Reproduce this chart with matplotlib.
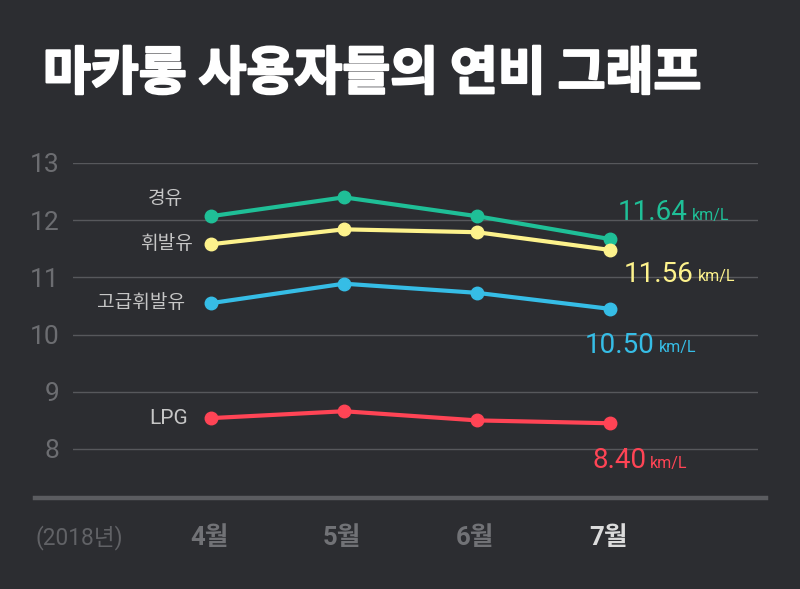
import matplotlib
matplotlib.use("Agg")
import matplotlib.pyplot as plt
import matplotlib.patheffects as pe
from matplotlib.lines import Line2D

months = ['4월', '5월', '6월', '7월']
series_names = ['경유', '휘발유', '고급휘발유', 'LPG']
diesel = [12.07, 12.40, 12.07, 11.67]
gasoline = [11.58, 11.84, 11.79, 11.48]
premium = [10.55, 10.89, 10.73, 10.45]
lpg = [8.54, 8.66, 8.50, 8.45]
last_labels = ['11.64', '11.56', '10.50', '8.40']
y_ticks = [8, 9, 10, 11, 12, 13]

BG = '#2c2d31'
colors = ['#1fbf97', '#fdf28c', '#36bde6', '#ff4455']
# label offsets in pixels (name label, value label)
name_off = [(-28, 17), (-18, 0), (-26, 0), (-23, 0)]
name_size = [13.75, 13.75, 13.75, 15]
value_off = [(8, 19), (14, -32), (-25, -44), (-18, -45)]

KR = ['Noto Sans CJK KR', 'DejaVu Sans']
NUM = ['Roboto', 'Noto Sans CJK KR']

fig = plt.figure(figsize=(8, 5.89), dpi=100, facecolor=BG)
ax = fig.add_axes([73 / 800, 1 - 498 / 589, 685 / 800, 335 / 589])
ax.set_facecolor(BG)

x = list(range(len(months)))
px = 72 / 100  # points per pixel
for vals, col, name, noff, nsz, lab, voff in zip(
        [diesel, gasoline, premium, lpg], colors, series_names,
        name_off, name_size, last_labels, value_off):
    ax.plot(x, vals, color=col, lw=3.0, marker='o', ms=9, zorder=3)
    ax.annotate(name, xy=(x[0], vals[0]), xytext=(noff[0] * px, noff[1] * px),
                textcoords='offset points', ha='right', va='center',
                color='#c6c6c6', fontsize=nsz, family=NUM)
    t = ax.annotate(lab, xy=(x[-1], vals[-1]), xytext=(voff[0] * px, voff[1] * px),
                    textcoords='offset points', ha='left', va='baseline',
                    color=col, fontsize=20, family=NUM)
    ax.annotate('km/L', xy=(1, 0), xycoords=t, xytext=(3, 2.5),
                textcoords='offset points', ha='left', va='bottom',
                color=col, fontsize=11.5, family=NUM)

ax.set_xlim(-138 / 133, 3 + 148 / 133)
ax.set_ylim(8 - 49 / 57.2, 13)
ax.set_yticks(y_ticks)
ax.set_yticklabels([str(v) for v in y_ticks], family=NUM, color='#6c6d71',
                   fontsize=19)
ax.tick_params(axis='y', length=0, pad=10)
ax.set_xticks([])
ax.grid(axis='y', color='#57585c', lw=1)
for s in ax.spines.values():
    s.set_visible(False)
ax.set_axisbelow(True)

# thick baseline
fig.add_artist(Line2D([35 / 800, 766 / 800], [1 - 498 / 589] * 2,
                      color='#5b5c60', lw=3.2, transform=fig.transFigure))

# month labels below axis
for i, m in enumerate(months):
    last = i == len(months) - 1
    ax.annotate(m, xy=(x[i], 0), xycoords=('data', 'axes fraction'),
                xytext=(-2 * px, -40 * px), textcoords='offset points',
                ha='center', va='center', fontsize=18.5, fontweight='bold',
                color='#dcdcdc' if last else '#717276', family=NUM)
fig.text(79 / 800, 1 - 538 / 589, '(2018년)', ha='center', va='center',
         fontsize=16.3, color='#616266', family=NUM)

fig.text(43 / 800, 1 - 74 / 589, '마카롱 사용자들의 연비 그래프',
         ha='left', va='center', fontsize=37.5, fontweight='heavy',
         color='white', family=KR,
         path_effects=[pe.withStroke(linewidth=1.6, foreground='white')])

fig.savefig('out.png', dpi=100, facecolor=BG)
